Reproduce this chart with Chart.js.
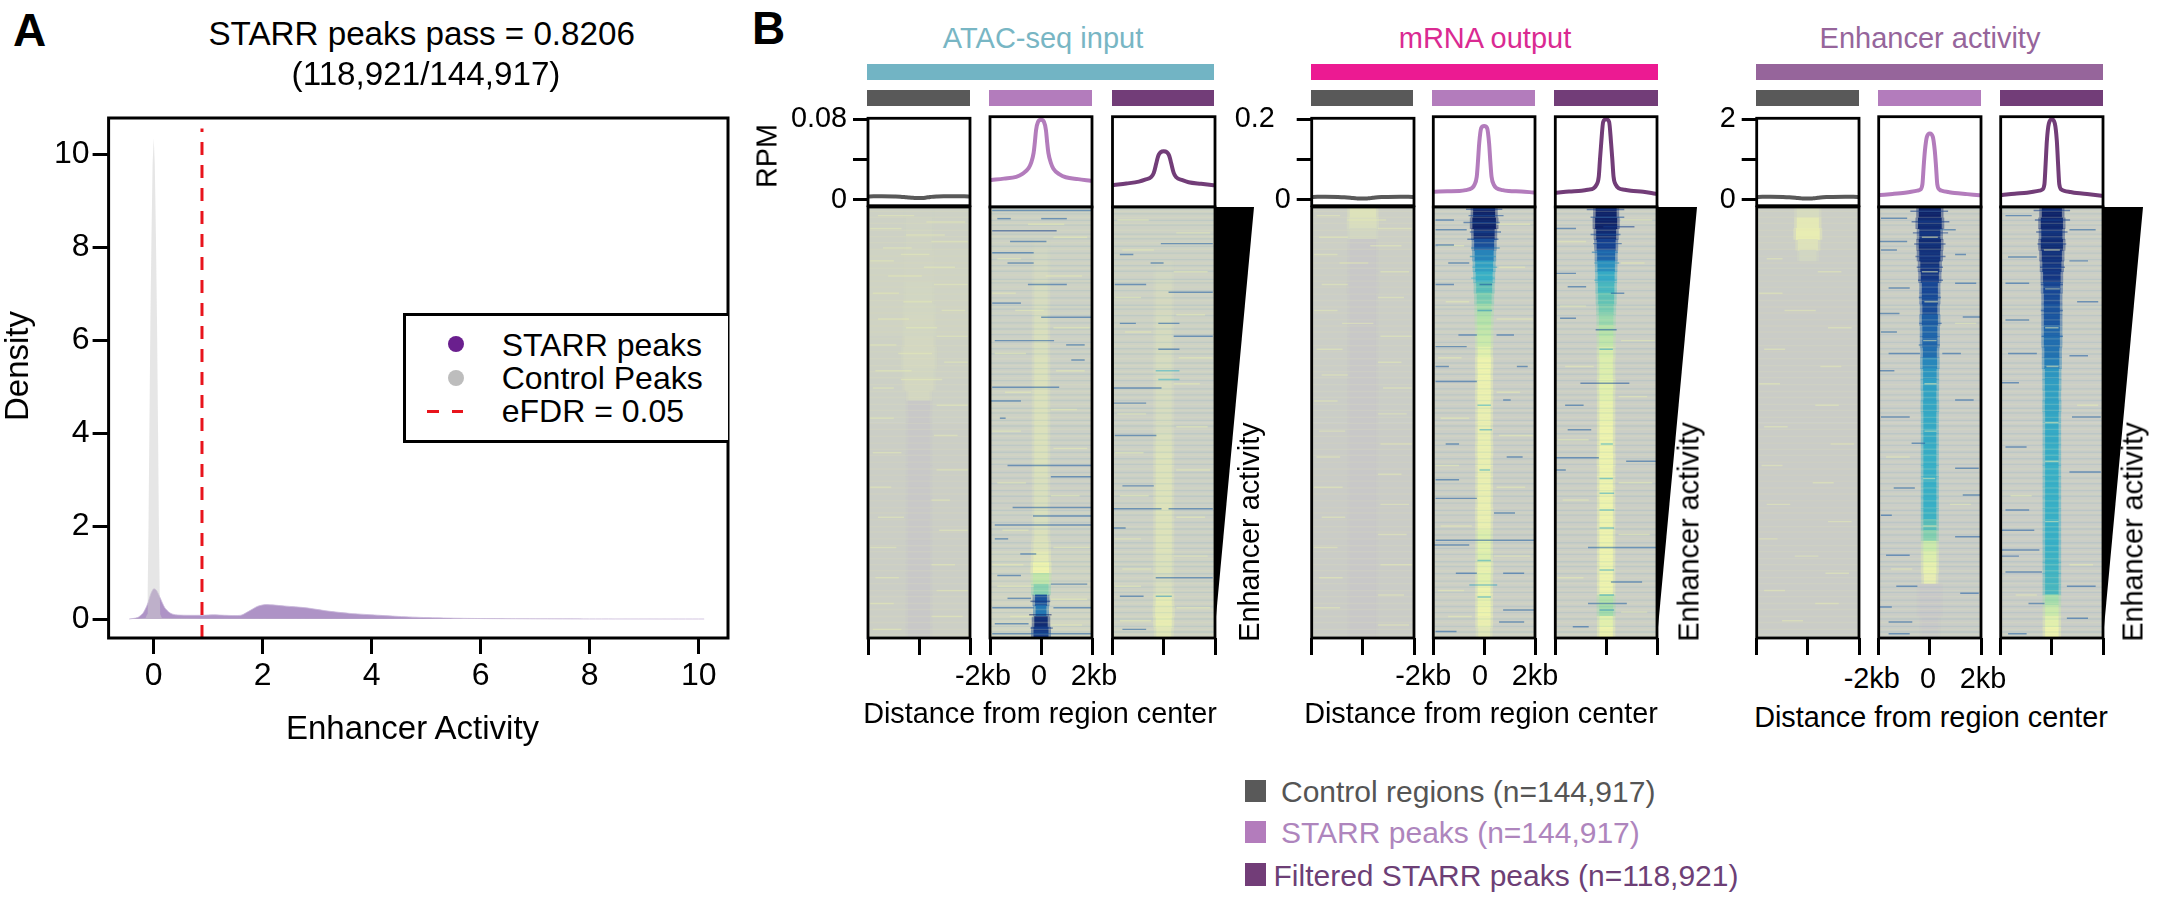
<!DOCTYPE html>
<html><head><meta charset="utf-8"><title>STARR peaks</title>
<script src="https://cdn.jsdelivr.net/npm/chart.js@4"></script>
<style>
html,body{margin:0;padding:0;background:#fff;width:2161px;height:898px;overflow:hidden;font-family:"Liberation Sans",Arial,sans-serif}
canvas{position:absolute;display:block}
.t{position:absolute;white-space:nowrap;line-height:normal}
.r{position:absolute;}
</style></head><body>
<script>
/* ---------- Panel A: density curves ---------- */
const starrX=[-.45,-.3,-.2,-.12,-.05,0,.05,.12,.2,.3,.4,.6,.9,1.1,1.3,1.6,1.75,1.9,2.05,2.4,2.8,3.2,3.6,4,4.5,5,5.5,6,7,8,10.1];
const starrY=[0,.03,.12,.3,.55,.65,.62,.45,.25,.13,.09,.08,.08,.09,.08,.08,.17,.27,.31,.28,.24,.17,.12,.09,.055,.03,.017,.01,.004,.001,0];
const controlX=[-.42,-.15,-.12,-.11,-.095,-.08,-.06,-.04,-.02,0,.02,.04,.06,.08,.095,.11,.12,.15,1,10.1];
const controlY=[0,.02,.1,.6,2,4,6.5,8.3,9.8,10.35,9.8,8.3,6.5,4,2,.6,.1,.02,.01,0];
const eFDR=.886;
const densityXTicks=[0,2,4,6,8,10];
const densityYTicks=[0,2,4,6,8,10];

/* ---------- Panel B: profile curves (RPM vs kb) ---------- */
const kb=[-2,-1.5,-1,-.75,-.5,-.4,-.3,-.25,-.2,-.12,0,.12,.2,.25,.3,.4,.5,.75,1,1.5,2];
const atacControl=[.0035,.0036,.0034,.0032,.0026,.0024,.0022,.0021,.002,.002,.0019,.002,.002,.0021,.0024,.0026,.003,.0034,.0036,.0036,.0035];
const atacStarr=[.0202,.0215,.0232,.026,.0315,.0365,.046,.056,.068,.076,.078,.076,.068,.056,.046,.0365,.031,.0255,.0228,.021,.0195];
const atacFiltered=[.0154,.0168,.0186,.0205,.0232,.027,.0362,.041,.0445,.047,.0478,.047,.0445,.041,.0362,.027,.0228,.02,.018,.0165,.0152];
const mrnaControl=[.0075,.0078,.0072,.0065,.0052,.0045,.004,.0038,.0036,.0036,.0036,.0036,.0038,.004,.0044,.0052,.006,.007,.0075,.0078,.0075];
const mrnaStarr=[.0224,.0235,.024,.026,.031,.038,.058,.095,.139,.175,.18,.175,.139,.095,.058,.038,.031,.026,.024,.0228,.0205];
const mrnaFiltered=[.02,.0228,.0248,.027,.031,.038,.058,.1,.139,.19,.196,.19,.139,.1,.058,.038,.031,.027,.0245,.022,.0175];
const enhControl=[.075,.078,.072,.065,.052,.045,.04,.038,.036,.036,.036,.036,.038,.04,.044,.052,.06,.07,.075,.078,.075];
const enhStarr=[.144,.17,.2,.22,.248,.27,.4,.82,1.2,1.54,1.62,1.54,1.2,.82,.4,.27,.245,.215,.19,.165,.14];
const enhFiltered=[.144,.175,.2,.22,.248,.27,.4,.9,1.45,1.86,1.96,1.86,1.45,.9,.4,.27,.245,.215,.19,.16,.125];

/* ---------- Panel B: heat map columns (rows 2.5% of ranked regions; core value, half width in kb) ---------- */
const a1Bg=[.11,.12,.12,.11,.1,.08,.08,.08,.08,.09];
const a1Core=[.11,.12,.12,.12,.13,.13,.13,.14,.14,.14,.15,.14,.15,.15,.15,.14,.15,.15,0,0,0,0,0,0,0,0,0,0,0,0,0,0,0,0,0,0,0,0,0,0];
const a1Hw=[.5,.5,.5,.5,.5,.5,.5,.5,.5,.55,.55,.55,.55,.6,.6,.55,.55,.4,.42,.4,.42,.4,.42,.42,.42,.4,.42,.42,.42,.4,.42,.42,.42,.42,.42,.42,.42,.42,.42,.42];
const a2Bg=[.11,.11,.1,.1,.11,.1,.09,.1,.12,.13];
const a2Core=[null,null,null,.12,.14,.15,.16,.18,.18,.18,.19,.2,.2,.2,.21,.21,.21,.21,.21,.21,.21,.21,.21,.21,.21,.2,.2,.2,.2,.2,.21,.22,.25,.3,.38,.45,.85,.76,.97,.92];
const a2Hw=[.25,.25,.25,.25,.25,.25,.25,.25,.25,.25,.25,.25,.25,.25,.25,.25,.25,.25,.25,.25,.25,.25,.25,.25,.25,.25,.25,.25,.25,.25,.25,.28,.28,.3,.3,.28,.22,.2,.25,.28];
const a3Bg=[.11,.11,.11,.11,.1,.1,.1,.1,.11,.11];
const a3Core=[null,null,null,null,null,.12,.14,.16,.16,.16,.17,.17,.17,.17,.18,.18,.18,.18,.18,.18,.18,.2,.21,.22,.22,.22,.22,.22,.22,.22,.22,.22,.21,.21,.18,.2,.26,.25,.27,.24];
const a3Hw=[.3,.3,.3,.3,.3,.3,.3,.3,.3,.3,.3,.3,.3,.3,.3,.3,.3,.3,.3,.3,.3,.3,.3,.3,.3,.3,.3,.3,.3,.3,.3,.3,.3,.3,.3,.3,.3,.32,.3,.28];
const m1Bg=[.09,.08,.07,.07,.06,.05,.05,.05,.05,.05];
const m1Core=[.22,.19,.14,0,0,0,0,0,0,0,0,0,0,0,0,0,0,0,0,0,0,0,0,0,0,0,0,0,0,0,0,0,0,0,0,0,0,0,0,0];
const m1Hw=[.5,.52,.5,.5,.5,.5,.5,.52,.5,.5,.5,.5,.5,.5,.5,.5,.5,.5,.5,.5,.5,.5,.5,.5,.5,.5,.5,.5,.5,.5,.5,.5,.5,.5,.5,.5,.5,.5,.5,.5];
const m2Bg=[.09,.09,.09,.08,.08,.08,.08,.08,.09,.09];
const m2Core=[1,1,.97,.86,.73,.65,.6,.52,.47,.42,.4,.38,.36,.32,.3,.3,.29,.29,.28,.28,.28,.28,.28,.28,.28,.28,.28,.28,.28,.28,.33,.32,.33,.31,.32,.3,.31,.3,.28,.24];
const m2Hw=[.42,.45,.4,.38,.36,.34,.32,.3,.28,.27,.26,.25,.25,.24,.25,.24,.24,.25,.24,.24,.24,.24,.25,.24,.24,.24,.24,.24,.25,.24,.24,.24,.24,.25,.24,.24,.24,.24,.24,.22];
const m3Bg=[.09,.09,.09,.08,.08,.08,.08,.08,.09,.09];
const m3Core=[1,1,.97,.9,.8,.7,.62,.56,.5,.47,.43,.4,.38,.34,.33,.33,.32,.32,.31,.31,.3,.3,.3,.3,.3,.3,.3,.3,.3,.3,.3,.3,.3,.3,.3,.3,.4,.42,.32,.3];
const m3Hw=[.4,.42,.38,.36,.34,.33,.32,.31,.3,.28,.27,.27,.26,.26,.25,.25,.26,.25,.25,.25,.25,.25,.25,.26,.25,.25,.25,.25,.25,.25,.25,.25,.25,.25,.25,.25,.26,.26,.25,.25];
const e1Bg=[.08,.06,.05,.05,.05,.05,.05,.05,.05,.05];
const e1Core=[.18,.25,.27,.22,.14,null,null,null,null,null,null,null,null,null,null,null,null,null,null,null,null,null,null,null,null,null,null,null,null,null,null,null,null,null,null,null,null,null,null,null];
const e1Hw=[.42,.42,.45,.38,.32,.4,.4,.4,.4,.4,.4,.4,.4,.4,.4,.4,.4,.4,.4,.4,.4,.4,.4,.4,.4,.4,.4,.4,.4,.4,.4,.4,.4,.4,.4,.4,.4,.4,.4,.4];
const e2Bg=[.08,.08,.08,.07,.07,.07,.07,.06,.06,.06];
const e2Core=[1,.97,.95,.97,.95,.95,.93,.88,.87,.87,.82,.8,.8,.78,.72,.68,.65,.64,.63,.62,.62,.62,.61,.6,.6,.6,.6,.6,.59,.52,.46,.36,.33,.31,.27,0,0,0,0,0];
const e2Hw=[.42,.45,.4,.42,.4,.36,.34,.3,.3,.28,.3,.28,.28,.26,.27,.25,.25,.24,.25,.24,.24,.24,.24,.24,.24,.24,.24,.24,.24,.24,.24,.24,.24,.24,.22,.4,.4,.4,.3,.3];
const e3Bg=[.08,.08,.08,.07,.07,.07,.07,.06,.06,.06];
const e3Core=[1,.98,.96,.97,.95,.94,.93,.88,.87,.85,.84,.8,.78,.77,.74,.68,.66,.65,.64,.63,.62,.62,.61,.61,.6,.6,.6,.6,.6,.6,.6,.6,.59,.58,.57,.56,.42,.36,.32,.3];
const e3Hw=[.38,.42,.4,.42,.38,.36,.33,.32,.3,.3,.3,.3,.3,.28,.28,.26,.26,.25,.26,.25,.25,.25,.25,.25,.25,.25,.25,.25,.25,.25,.25,.25,.25,.25,.25,.25,.25,.25,.25,.25];

/* dark streaks: [rank %, from kb, to kb, optional value] */
const a2Dark=[[.8,-1.9,2],[2.7,-1.7,-1.2],[2.7,0,1],[5.5,-1.9,.6,.9],[8,-1.2,.2],[10.6,-1.9,-.3],[13,-1.3,-.3],[18,-.5,1],[22.3,-1.9,-.8],[25.6,0,2],[31,-1.8,.5],[32,1,1.7],[35.5,1.2,1.7],[41.8,-1.9,.7],[45,-2,-.8],[49,-1.6,-1.4],[60,-1.3,2],[62.6,.4,2],[69.7,-1.1,2],[71.7,-.3,2],[73.8,-1.8,2],[77,-1.8,-1.3],[80.5,-.8,-.2],[85.5,-1.7,-.8],[87.5,.4,1.8],[90.8,-1.3,-.4],[91.5,-.4,.35,.95],[93,-1.9,-.3],[93,.5,2],[94.6,-.45,.4,1],[96.7,-1.8,-.5],[97.7,-.4,.45,.9],[99,-1.9,2]];
const a3Dark=[[8.5,-.1,1.9],[11,-1.7,-1.2],[13,-.5,0],[18,-1.9,-.7],[19.8,.2,1.9],[27,-1.7,-1.1],[27,-.2,.6],[30,.4,1.9],[33,-.2,.6],[38,-.3,.6,.6],[40,-.2,.6,.6],[42,-2,-.1],[45.5,-2,-.7],[53,-1.9,-.3],[64.7,-1.6,-.4],[70,-2,-.1],[70,.2,1.9],[74.5,-2,-1.5],[86,-.3,1.9],[90.3,-1.7,-.8],[90.3,-.3,.3,.7],[98,-1.6,-.7]];
const m2Dark=[[.5,-.7,.7,.9],[2,-.6,.75,.85],[3,-1.9,-1.2],[3.6,-.8,.6,.85],[5.3,-1.9,-.7],[5.8,-.55,.65,.85],[7.5,-.65,.55,.85],[8.8,-1.9,-1.2],[9.5,-.5,.6,.75],[11.5,-.55,.45,.7],[13,-1.4,-.6],[14,-.45,.5,.62],[16.5,-.5,.4,.6],[18,-1.9,-1.2],[18,-.17,.3,.85],[24,-.25,.3,.7],[29.7,-1,-.3],[29.7,.5,1.16],[32.4,-1.9,-.7],[37,-1.9,-1.4],[37,1.3,1.7],[40.5,-1.9,-.3],[44.8,.76,1.03],[46,-.25,.25,.6],[51.7,-.17,.3,.62],[55,-1.5,-1],[58,.9,1.5],[61,-.17,.22,.6],[63.3,-1.9,-1],[67.6,-1.9,-.3],[71,.4,1.2],[77.3,-1.9,1.96],[78.4,-2,-.6],[82,-.25,.25,.62],[85,-1.1,-.3],[85,.76,1.56],[87.7,-.57,.5,.65],[90.5,-.25,.25,.62],[93.5,.76,1.96],[96.3,.6,1.56],[98.5,-1.9,-1.1]];
const m3Dark=[[.6,-.75,.7,.9],[2.4,-.6,.7,.85],[4.6,-.1,1.1,.9],[5,-1.96,-1.2],[6.4,-.6,.55,.85],[8.5,-.5,.6,.85],[10.5,-.55,.45,.75],[13,-.45,.5,.7],[15.4,-1.96,-1.2],[17,-.45,.4,.62],[18.5,-1.5,-.8],[20,.2,.7],[25.8,-1.8,-1.2],[28.5,-.4,.4,.85],[33,-.25,.25,.65],[40.9,-1,.9,.85],[46,-1.6,-.9],[51.7,-1.5,-.6],[55,-.2,.25,.6],[58.2,-1.96,-.3],[59,.8,1.96],[61,-1.96,-1.6],[63,-.25,.25,.62],[66.4,-.25,.3,.62],[70.3,-.25,.3,.62],[74.5,-.25,.3,.62],[79,-.7,1.96,.8],[84.2,-.25,.3,.62],[87,.2,1.4],[90,-.25,.3,.65],[92,-.7,.8],[93.5,-.25,.3,.7],[97.4,-1.3,-.7]];
const e2Dark=[[1,-.75,.7,.9],[2.6,-1.9,-.9],[3.4,-.7,.75,.9],[5.3,.4,1],[6,-.65,.7,.9],[8,-2,-.9],[8.6,-.6,.6,.9],[10,-1.9,-1.3],[11,1,1.4],[11.5,-.55,.6,.9],[14,-.5,.5,.9],[17,-.45,.5,.9],[17.7,1,1.8],[18.8,-1.6,-.8],[21,-.42,.42,.85],[24.7,-2,-1.2],[25.5,1.3,2],[27,-.4,.45,.85],[29,-1.9,-1.3],[32,-.42,.38,.8],[34,-1.6,-.4],[34,.5,1.2],[38,-2,-1.4],[44.8,1,1.7],[48.7,-1.9,-.8],[54.8,-.7,-.2],[60.6,1,1.9],[65.2,-1.4,-.6],[66.8,1.3,2],[71.5,-1.9,-1.5],[76.5,1,1.96],[80.8,-1.7,-.8],[88,-1.3,-.5],[89.6,1.2,1.9],[92.8,-2,-1.5],[96.3,-1.6,-.7],[99,-1.6,-.8]];
const e3Dark=[[.8,-.7,.7,.9],[2,-1.8,-.8],[3,-.65,.7,.9],[5.3,.7,1.7],[5.8,-.6,.6,.9],[8.6,-.55,.55,.9],[11.6,-1.7,-.6],[12.5,.7,1.4],[14,-.45,.5,.9],[17.7,-1.8,-.9],[18,-.42,.42,.9],[22,1,1.8],[24,-.42,.42,.85],[26.2,-1.8,-.9],[30,-.38,.42,.8],[34,-1.7,-.6],[34.5,.7,1.4],[40.8,-2,-1.3],[48.7,.8,1.9],[55.7,-1.8,-1],[61.5,.7,1.9],[70.3,-1.8,-.9],[75,-2,-.7],[79.6,-2,-.5],[81,-2,-1.3],[84.7,-1.8,-.4],[88,.6,1.7],[92,-.9,-.3],[95.4,.6,1.4],[99,-1.7,-1]];

/* pale streaks: [rank %, from kb, to kb] */
const a1Pale=[[2,-1.6,-.2],[3.5,.3,1.8],[5,-1.9,-.7],[6.5,-.5,1],[8,.5,1.9],[9.5,-1.4,-.3],[11,-.7,.4],[12.5,-1.9,-1],[14,.2,1.4],[16,-1.2,.1],[18,.6,1.9],[20,-1.8,-.8],[22,-.6,.5],[24,.9,1.8],[26,-1.6,-.4],[28,-.5,.7],[30,.7,1.9],[32,-1.9,-.9],[34,-.8,.5],[36,1,1.9],[38,-1.7,-.3],[40,-.7,.9],[42,-1.8,-1],[46,.7,1.9],[49,-1.9,-1],[53,.6,1.5],[57,-1.8,-.7],[61,.7,1.9],[65,-1.9,-1.1],[68,.5,1.2],[72,-1.6,-.6],[75,.8,1.9],[79,-1.9,-.9],[83,.5,1.4],[86,-1.7,-.8],[89,.7,1.9],[92,-1.9,-1],[95,.5,1.7],[98,-1.8,-.7]];
const a2Pale=[[4,-.5,.9],[7,.5,1.8],[12,-1.7,-.8],[16,.2,1.6],[20,-1.9,-1],[24,-1,.1],[28,.5,1.9],[34,-1.8,-.6],[38,.6,1.7],[43,-1.4,-.4],[47,.4,1.4],[52,-1.9,-.8],[56,.5,1.8],[64,-1.7,-.6],[67,.4,1.5],[75,-1.5,-.5],[79,.5,1.9],[83,-1.9,-.7],[88,-1.7,-.3],[91,.4,1.8],[95,-1.2,-.3],[97,.4,1.6]];
const a3Pale=[[3,-1.8,-.6],[6,.5,1.8],[10,-1.6,-.4],[15,.4,1.7],[21,-1.9,-.9],[25,.5,1.6],[29,-1.5,-.5],[35,.6,1.9],[41,.4,1.4],[48,-1.8,-.7],[51,.5,1.7],[57,-1.9,-.8],[61,.5,1.8],[67,-1.7,-.6],[72,.5,1.6],[77,-1.9,-.9],[81,.4,1.7],[84,-1.6,-.5],[88,-1.9,-.9],[93,.5,1.8],[96,-1.7,-.5]];
const m1Pale=[[2,-1.8,-.9],[3,-.6,.9],[5,.6,1.9],[7,-1.7,-.6],[9,.3,1.5],[11,-1.9,-1],[13,-.9,.2],[15,.7,1.8],[18,-1.6,-.6],[21,.6,1.6],[24,-1.9,-1],[27,-.8,.4],[30,.7,1.9],[33,-1.8,-.8],[36,.6,1.5],[39,-1.6,-.6],[42,.8,1.9],[45,-1.9,-1],[48,.6,1.7],[52,-1.7,-.7],[55,.7,1.9],[58,-1.8,-.9],[62,.6,1.5],[65,-1.9,-.8],[69,.7,1.8],[72,-1.6,-.7],[76,.6,1.7],[79,-1.9,-1],[83,.7,1.9],[86,-1.7,-.8],[90,.6,1.6],[93,-1.9,-.9],[97,.6,1.8]];
const m2Pale=[[4,.5,1.8],[9,-1.8,-.8],[14,.6,1.6],[22,-1.5,-.6],[26,.5,1.9],[35,-1.8,-.9],[43,.5,1.4],[49,-1.7,-.6],[53,.6,1.9],[60,-1.9,-1],[65,.5,1.6],[74,-1.7,-.5],[81,.4,1.8],[89,-1.8,-.8],[95,-1.4,-.5]];
const m3Pale=[[3,.6,1.8],[8,-1.9,-.8],[13,.6,1.5],[23,-1.8,-.8],[31,.6,1.9],[37,-1.6,-.5],[44,.5,1.6],[54,-1.9,-.7],[64,.5,1.8],[68,-1.7,-.7],[76,.5,1.7],[86,-1.9,-.9],[94,.6,1.6]];
const e1Pale=[[12,-1.6,-1],[15,.4,1.3],[20,-1.9,-1],[24,-.9,.3],[28,.8,1.7],[33,-1.7,-.9],[37,.5,1.3],[41,-1.9,-1.1],[46,.3,1.2],[51,-1.7,-.8],[55,.9,1.8],[60,-1.8,-1],[64,.2,1],[69,-1.6,-.7],[73,.8,1.7],[77,-1.9,-1.2],[81,-.5,.4],[85,.7,1.6],[89,-1.7,-.9],[92,.3,1.2],[96,-1,-.2]];
const e2Pale=[[7,-.3,.3],[15,-.3,.3],[22,-.2,.3],[27,1,1.8],[31,-.25,.25],[41,-.2,.25],[52,-.2,.25],[58,-1.7,-.8],[63,-.25,.2],[69,.8,1.6],[74,-.25,.25],[84,-1.5,-.7]];
const e3Pale=[[10,-.3,.3],[19,-.25,.3],[28,-.25,.25],[37,-.2,.25],[46,1,1.8],[50,-.25,.25],[59,-.25,.25],[67,-1.6,-.8],[73,-.25,.25],[83,.7,1.6],[90,-1.4,-.6]];

/* faint full-width row texture: rank % of rows reading a little darker / a little paler than their surroundings */
const faintDark=[.4,1.6,3.1,4.2,6.3,7.4,9.1,10.7,12.2,13.6,14.9,16.8,17.6,19.4,21.1,22.8,23.7,25.2,26.9,28.3,29.6,31.4,32.9,34.1,36.2,37.5,38.8,40.3,42.2,43.6,44.9,46.7,47.8,49.5,50.8,52.6,54.1,55.3,56.9,58.4,59.7,61.6,62.9,64.2,65.8,67.1,68.7,70.4,71.5,73.2,74.7,76.1,77.9,79.2,80.6,82.3,83.4,85.1,86.8,88.2,89.4,91.2,92.7,94.1,95.6,97.3,98.6];
const faintPale=[1,2.4,3.8,5.4,6.9,8.3,9.8,11.4,13,14.2,15.8,17.2,18.6,20.2,21.7,23.2,24.6,26.2,27.6,29,30.6,32.2,33.6,35.2,36.8,38.2,39.6,41.2,42.8,44.2,45.8,47.2,48.8,50.2,51.6,53.2,54.8,56.2,57.6,59.2,60.8,62.2,63.6,65.2,66.6,68.2,69.8,71,72.6,74.2,75.4,77,78.6,80,81.6,83,84.4,86,87.4,89,90.4,92,93.4,95,96.4,98,99.2];

/* heat scale stops */
const heatStops=[[0,'#c8c8c8'],[.1,'#ccd0c6'],[.2,'#d9debe'],[.3,'#eef3ae'],[.4,'#b4e2a9'],[.5,'#62c2b5'],[.6,'#39b0c6'],[.7,'#2a90bf'],[.8,'#1f64aa'],[.9,'#163f8e'],[1,'#0f2268']];

/* ---------- text, tick labels, colours ---------- */
const rpmTicks=[[.08,.04,0],[.2,.1,0],[2,1,0]];
const rpmLabels=[['0.08','0'],['0.2\u00A0\u00A0','0'],['2','0']];
const heatTicks=[-2,0,2];
const heatTickLabels=['-2kb','0','2kb'];
const blockTitles=['ATAC-seq input','mRNA output','Enhancer activity'];
const blockColors=['#72b4c4','#ec1a92','#96659b'];
const blockTextColors=['#78b6c4','#da2a92','#96659b'];
const groupColors=['#595959','#b37cbc','#723d78'];
const legendRows=['Control regions (n=144,917)','STARR peaks (n=144,917)','Filtered STARR peaks (n=118,921)'];
const legendTextColors=['#555','#ae85bd','#6d3f76'];

const FONT='"Liberation Sans",Arial,sans-serif';
Chart.defaults.font.family=FONT;
Chart.defaults.animation=false;
Chart.defaults.responsive=false;
Chart.defaults.plugins.legend.display=false;
Chart.defaults.plugins.tooltip.enabled=false;

function text(s,x,base,size,color,align,weight){
  const d=document.createElement('div');d.className='t';d.textContent=s;
  d.style.fontSize=size+'px';d.style.color=color||'#000';d.style.fontWeight=weight||'normal';
  d.style.left=x+'px';d.style.top=(base-size*.905)+'px';
  if(align==='c')d.style.transform='translateX(-50%)';
  if(align==='r')d.style.transform='translateX(-100%)';
  document.body.appendChild(d);return d;
}
function vtext(s,cx,cy,size,color){
  const d=document.createElement('div');d.className='t';d.textContent=s;
  d.style.fontSize=size+'px';d.style.color=color||'#000';
  d.style.left=cx+'px';d.style.top=cy+'px';d.style.transform='translate(-50%,-50%) rotate(-90deg)';
  document.body.appendChild(d);
}
function rect(x0,y0,x1,y1,c){
  const d=document.createElement('div');d.className='r';
  d.style.cssText+=`left:${x0}px;top:${y0}px;width:${x1-x0}px;height:${y1-y0}px;background:${c}`;
  document.body.appendChild(d);return d;
}
function canvas(x,y,w,h){
  const c=document.createElement('canvas');c.width=w;c.height=h;
  c.style.left=x+'px';c.style.top=y+'px';c.style.width=w+'px';c.style.height=h+'px';
  document.body.appendChild(c);return c.getContext('2d');
}
const boxPlugin=(lw)=>({id:'box',afterDraw(ch){
  const a=ch.chartArea,g=ch.ctx;g.save();g.strokeStyle='#000';g.lineWidth=lw;g.lineJoin='miter';
  g.strokeRect(a.left,a.top,a.right-a.left,a.bottom-a.top);g.restore();}});
function hex(c){return[1,3,5].map(i=>parseInt(c.substr(i,2),16));}
function heatColor(v,a){
  let i=0;while(i<heatStops.length-2&&v>heatStops[i+1][0])i++;
  const[p,c0]=heatStops[i],[q,c1]=heatStops[i+1],f=Math.min(1,Math.max(0,(v-p)/(q-p)));
  const A=hex(c0),B=hex(c1),m=A.map((x,k)=>Math.round(x+(B[k]-x)*f));
  return`rgba(${m[0]},${m[1]},${m[2]},${a==null?1:a})`;
}
const pts=(xs,ys)=>xs.map((x,i)=>({x,y:ys[i]}));

/* ---------- Panel A ---------- */
(function(){
  const L=108.6,T=118,R=728,B=638,cx=0,cy=60,W=745,H=660;
  const pxX=54.5,pxY=46.44,zeroX=153.7,zeroY=619;
  new Chart(canvas(cx,cy,W,H),{type:'scatter',
    data:{datasets:[
      {label:'eFDR = 0.05',data:[{x:eFDR,y:-.41},{x:eFDR,y:10.56}],showLine:true,borderColor:'#e8141c',borderWidth:3,borderDash:[13,10],pointRadius:0},
      {label:'Control Peaks',data:pts(controlX,controlY),showLine:true,fill:'origin',backgroundColor:'rgba(205,205,205,.5)',borderWidth:0,borderColor:'rgba(205,205,205,.5)',pointRadius:0},
      {label:'STARR peaks',data:pts(starrX,starrY),showLine:true,fill:'origin',backgroundColor:'#ae93c6',borderColor:'#c9b8da',borderWidth:.8,pointRadius:0,tension:.25}
    ]},
    options:{layout:{padding:{top:T-cy,right:W-R,bottom:0,left:0}},
      scales:{
        x:{type:'linear',min:(L-zeroX)/pxX,max:(R-zeroX)/pxX,
          afterBuildTicks:s=>{s.ticks=densityXTicks.map(value=>({value}))},
          afterFit:s=>{s.height=H-(B-cy)},
          grid:{drawOnChartArea:false,drawTicks:true,tickLength:16,tickWidth:3,tickColor:'#000'},border:{display:false},
          ticks:{color:'#000',font:{size:32},padding:3,maxRotation:0,autoSkip:false}},
        y:{type:'linear',min:(zeroY-B)/pxY,max:(zeroY-T)/pxY,
          afterBuildTicks:s=>{s.ticks=densityYTicks.map(value=>({value}))},
          afterFit:s=>{s.width=L},
          grid:{drawOnChartArea:false,drawTicks:true,tickLength:16,tickWidth:3,tickColor:'#000'},border:{display:false},
          ticks:{color:'#000',font:{size:32},padding:3,autoSkip:false}}
      }},plugins:[boxPlugin(3)]});
  text('A',13,44.6,46,'#000','l','bold');
  text('STARR peaks pass = 0.8206',421.7,44.6,33.2,'#000','c');
  text('(118,921/144,917)',426,84.8,33.2,'#000','c');
  vtext('Density',17,366,33);
  text('Enhancer Activity',412.5,739,33,'#000','c');
  /* legend */
  const lg=rect(403,312.6,728,443.5,'#fff');lg.style.border='3px solid #000';lg.style.boxSizing='border-box';lg.style.borderRight='0';
  [[456,344,'#6a1f8e'],[456,378,'#bdbdbd']].forEach(([x,y,c])=>{const d=rect(x-8,y-8,x+8,y+8,c);d.style.borderRadius='50%';});
  rect(426.5,410,438.7,413,'#e8141c');rect(451.8,410,463,413,'#e8141c');
  text('STARR peaks',501.7,356,32);text('Control Peaks',501.7,389,32);text('eFDR = 0.05',501.7,421.7,32);
})();

/* ---------- Panel B ---------- */
const blocks=[
 {bar:[867.3,1214.3],boxes:[[868,970],[990,1092],[1112.5,1214]],title:1043,labels:[983,1039,1094],lb:685,axis:1040,ab:723,vx:1249},
 {bar:[1310.7,1657.7],boxes:[[1311.7,1413.3],[1433.3,1535.3],[1555.3,1657.3]],title:1485,labels:[1423.3,1480,1535],lb:685,axis:1481,ab:723,vx:1689},
 {bar:[1756,2103.3],boxes:[[1756.7,1858.7],[1878.7,1981],[2000.7,2103]],title:1930,labels:[1871.7,1928,1983],lb:688,axis:1931,ab:727,vx:2133}];
const profiles=[[atacControl,atacStarr,atacFiltered],[mrnaControl,mrnaStarr,mrnaFiltered],[enhControl,enhStarr,enhFiltered]];
const heat=[
 [[a1Bg,a1Core,a1Hw,[],a1Pale],[a2Bg,a2Core,a2Hw,a2Dark,a2Pale],[a3Bg,a3Core,a3Hw,a3Dark,a3Pale]],
 [[m1Bg,m1Core,m1Hw,[],m1Pale],[m2Bg,m2Core,m2Hw,m2Dark,m2Pale],[m3Bg,m3Core,m3Hw,m3Dark,m3Pale]],
 [[e1Bg,e1Core,e1Hw,[],e1Pale],[e2Bg,e2Core,e2Hw,e2Dark,e2Pale],[e3Bg,e3Core,e3Hw,e3Dark,e3Pale]]];
const BOXTOP=116.7,BOXBOT=207,HEATBOT=638,ZERO=201,TOPTICK=117.7;

function drawProfile(bi,pi){
  const [l,r]=blocks[bi].boxes[pi],first=pi===0,ticks=rpmTicks[bi];
  const axisW=first?120:6,mT=22,mB=22,mR=6,px=ticks[0]/(ZERO-TOPTICK);
  const cx=l-axisW,cy=BOXTOP-mT,W=axisW+(r-l)+mR,H=mT+(BOXBOT-BOXTOP)+mB;
  new Chart(canvas(Math.round(cx),Math.round(cy),Math.round(W),Math.round(H)),{type:'scatter',
    data:{datasets:[{label:legendRows[pi],data:pts(kb,profiles[bi][pi]),showLine:true,borderColor:groupColors[pi],borderWidth:4,pointRadius:0,cubicInterpolationMode:'monotone',borderCapStyle:'round'}]},
    options:{layout:{padding:{left:first?0:axisW+(cx-Math.round(cx)),top:mT+(cy-Math.round(cy)),right:mR,bottom:mB}},
      scales:{
        x:{type:'linear',min:-2.06,max:2.06,display:false},
        y:{type:'linear',min:-(BOXBOT-ZERO)*px,max:(ZERO-BOXTOP)*px,display:first,
          afterBuildTicks:s=>{s.ticks=ticks.map(value=>({value}))},
          afterFit:s=>{if(first)s.width=axisW+(cx-Math.round(cx))},
          grid:{drawOnChartArea:false,drawTicks:true,tickLength:15,tickWidth:3,tickColor:'#000'},border:{display:false},
          ticks:{color:'#000',font:{size:28.8},padding:6,autoSkip:false,
            callback:v=>{const i=rpmLabels[bi].findIndex(t=>parseFloat(t)===v);return i<0?'':rpmLabels[bi][i]}}}
      }},plugins:[boxPlugin(2.8)]});
}
function drawHeat(bi,pi){
  const [l,r]=blocks[bi].boxes[pi],[bg,core,hw,dark,pale]=heat[bi][pi];
  const mL=6,mT=4,mR=6,axisH=24,h=HEATBOT-BOXBOT,isControl=pi===0;
  const cx=l-mL,cy=BOXBOT-mT,W=mL+(r-l)+mR,H=mT+h+axisH;
  const rows=core.map((v,i)=>v===null?null:({x:[-hw[i],hw[i]],y:(i+.5)*2.5,v})).filter(Boolean);
  const halo=core.map((v,i)=>v===null?null:({x:[-hw[i]-.1,hw[i]+.1],y:(i+.5)*2.5,v})).filter(Boolean);
  const mk=(label,data,thick,alpha)=>({label,data,barThickness:thick,grouped:false,borderWidth:0,
    backgroundColor:c=>c.raw?heatColor(c.raw.v,alpha):'#ccc'});
  const whole=(ranks,v)=>ranks.map(y=>({x:[-2,2],y,v}));
  new Chart(canvas(Math.round(cx),Math.round(cy),Math.round(W),Math.round(H)),{type:'bar',
    data:{datasets:[
      mk('dark',dark.map(s=>({x:[s[1],s[2]],y:s[0],v:s[3]===undefined?.82:s[3]})),.8,.55),
      mk('pale',pale.map(s=>({x:[s[1],s[2]],y:s[0],v:.26})),.8,isControl?.5:.55),
      mk('faint dark',isControl?[]:whole(faintDark,.72),.7,.09),
      mk('faint pale',whole(faintPale,.24),.7,isControl?.18:.2),
      mk('core',rows,h/40),
      mk('halo',halo,h/40,.45),
      mk('background',bg.map((v,i)=>({x:[-2,2],y:5+i*10,v})),h/10)
    ]},
    options:{indexAxis:'y',layout:{padding:{left:mL+(cx-Math.round(cx)),top:mT+(cy-Math.round(cy)),right:mR,bottom:0}},
      scales:{
        x:{type:'linear',min:-2,max:2,
          afterBuildTicks:s=>{s.ticks=heatTicks.map(value=>({value}))},
          afterFit:s=>{s.height=axisH},
          grid:{drawOnChartArea:false,drawTicks:true,tickLength:17,tickWidth:3,tickColor:'#000'},border:{display:false},
          ticks:{display:false}},
        y:{type:'linear',min:0,max:100,reverse:true,display:false,offset:false}
      }},plugins:[boxPlugin(2.8)]});
}
function drawWedge(bi){
  const l=blocks[bi].boxes[2][1];
  new Chart(canvas(Math.round(l),BOXBOT,40,HEATBOT-BOXBOT),{type:'scatter',
    data:{datasets:[{label:'Enhancer activity rank',data:[{x:0,y:0},{x:1,y:1}],showLine:true,fill:'end',backgroundColor:'#000',borderWidth:0,pointRadius:0}]},
    options:{scales:{x:{type:'linear',min:0,max:1,display:false},y:{type:'linear',min:0,max:1,display:false}}}});
}
blocks.forEach((b,bi)=>{
  text(blockTitles[bi],b.title,48,29,blockTextColors[bi],'c');
  rect(b.bar[0],64,b.bar[1],80,blockColors[bi]);
  b.boxes.forEach(([l,r],pi)=>{
    const x0=pi===0?b.bar[0]:l-1,x1=pi===2?b.bar[1]:r;
    rect(x0,90.3,x1,106.3,groupColors[pi]);
    drawProfile(bi,pi);drawHeat(bi,pi);
  });
  drawWedge(bi);
  vtext('Enhancer activity',b.vx,532,28.8);
  heatTickLabels.forEach((s,i)=>text(s,b.labels[i],b.lb,28.8,'#000','c'));
  text('Distance from region center',b.axis,b.ab,28.8,'#000','c');
});
text('B',752,43,46,'#000','l','bold');
vtext('RPM',766.7,156,28.8);

/* bottom key */
[[779.5,802,1281,802],[821,843,1281,843.6],[862.6,885.7,1273.5,885.7]].forEach(([y0,y1,tx,base],i)=>{
  rect(1245,y0,1266,y1,groupColors[i]);
  text(legendRows[i],tx,base,30,legendTextColors[i]);
});
</script>
</body></html>
